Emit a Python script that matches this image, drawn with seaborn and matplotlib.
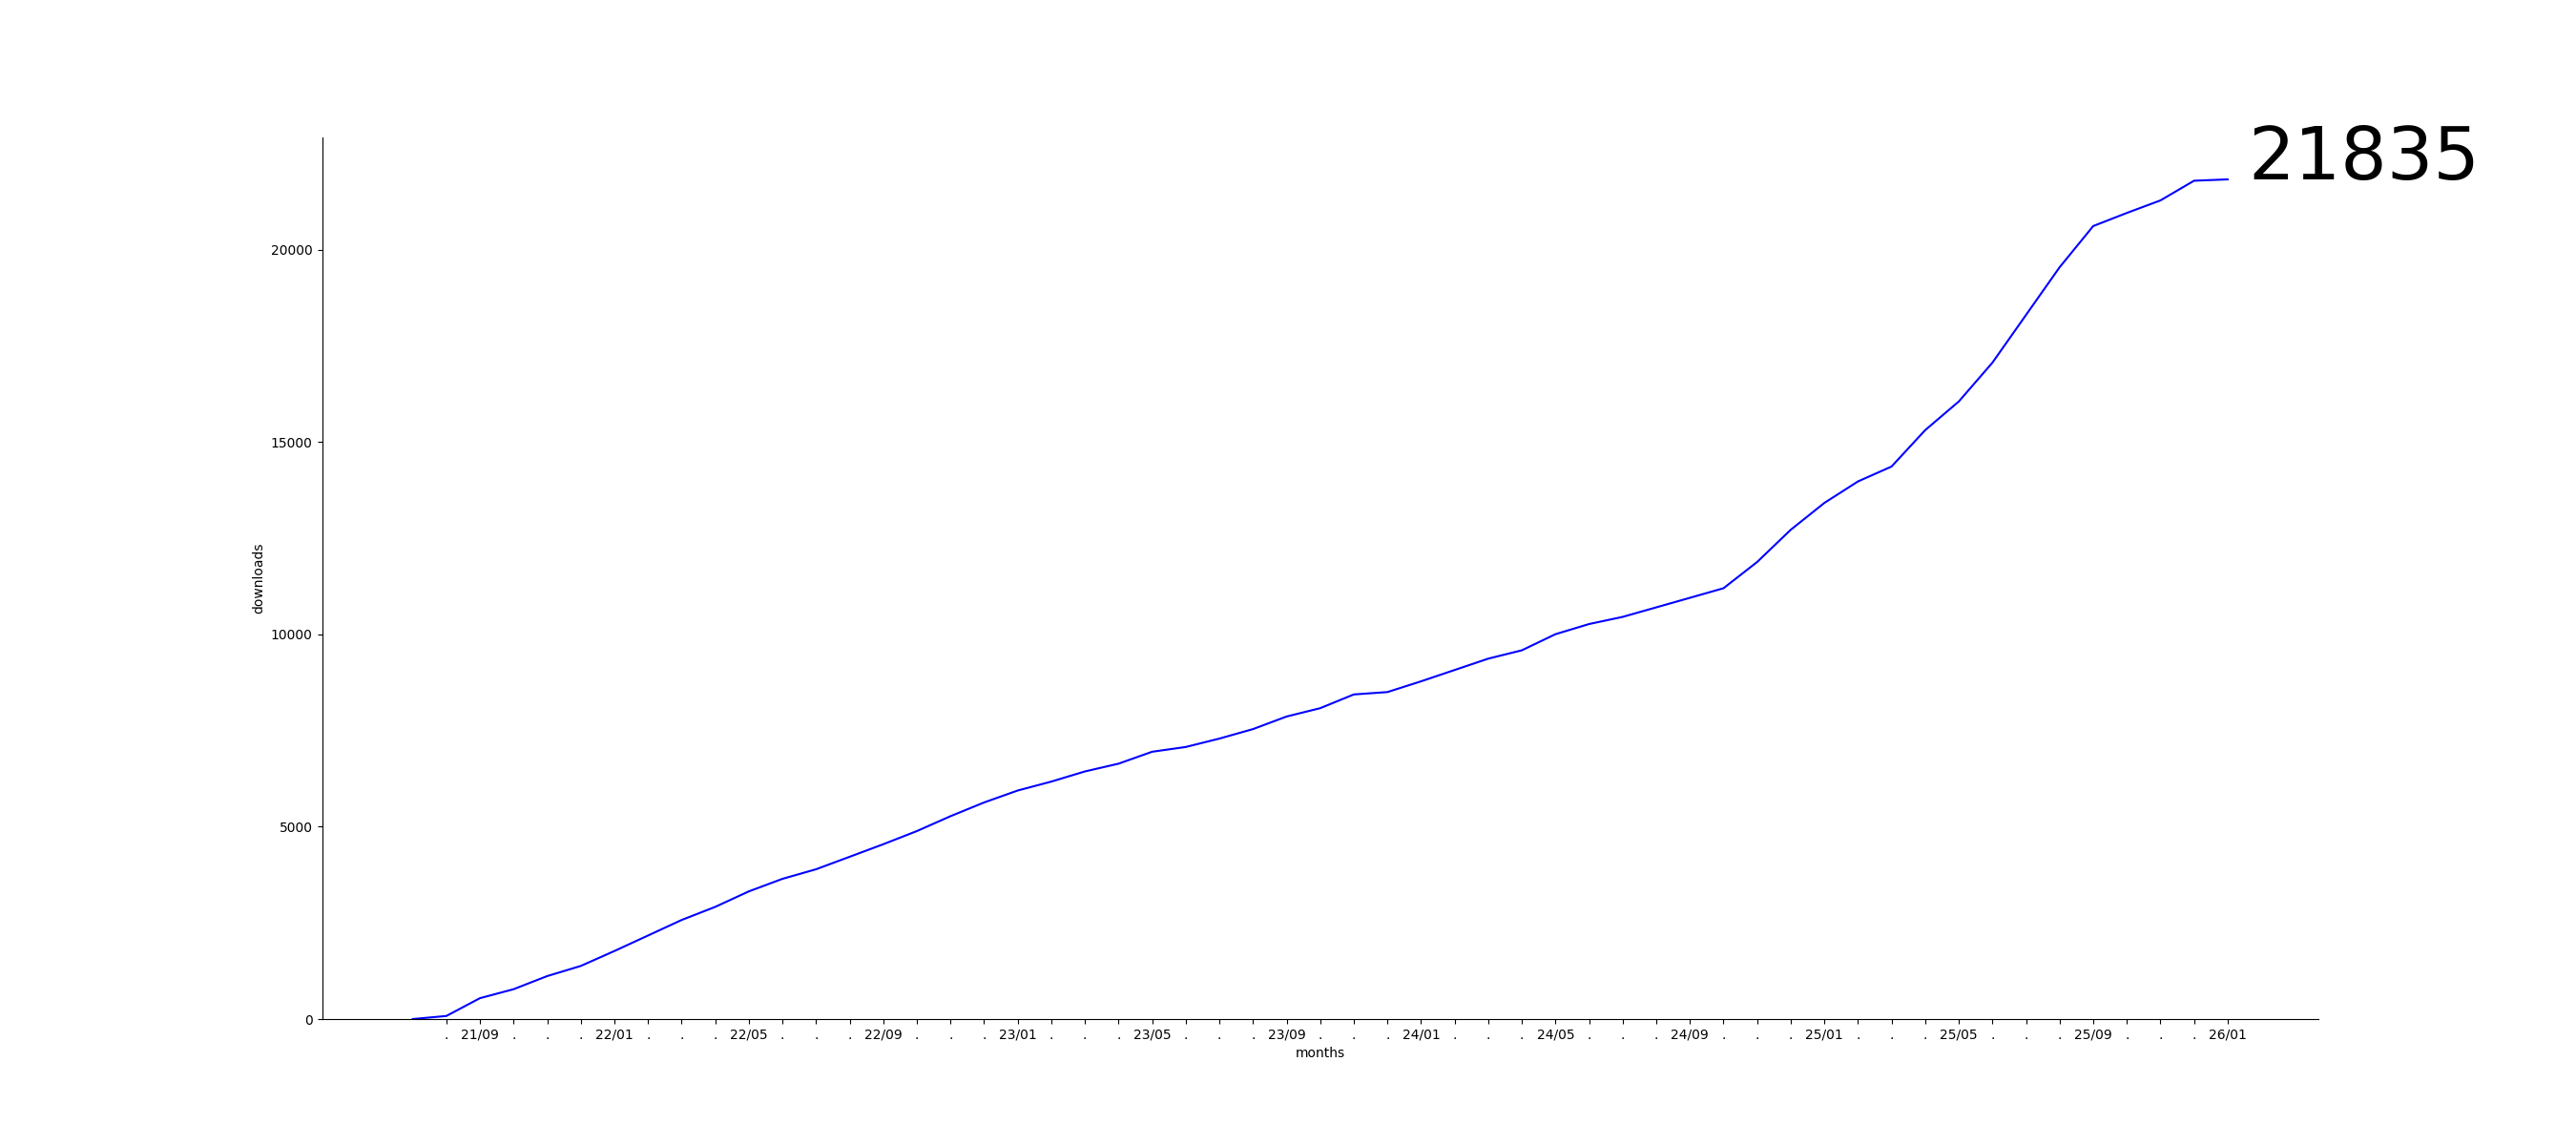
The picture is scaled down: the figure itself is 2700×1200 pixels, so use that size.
import matplotlib
matplotlib.use("Agg")
import matplotlib.pyplot as plt
import seaborn as sns
import pandas as pd

months = [p.strftime("%y/%m") for p in pd.period_range("2021-07", "2026-01", freq="M")]
downloads = [
    0, 80, 543, 776, 1117, 1381,                      # 21/07 - 21/12
    1769, 2172, 2576, 2917, 3320, 3646, 3895, 4220, 4546, 4888, 5275, 5632,   # 22
    5943, 6175, 6439, 6641, 6951, 7075, 7293, 7540, 7867, 8084, 8441, 8503,   # 23
    8782, 9077, 9372, 9589, 10008, 10272, 10458, 10706, 10954, 11203, 11885, 12723,  # 24
    13421, 13980, 14368, 15314, 16059, 17068, 18309, 19550, 20621, 20962, 21288, 21800,  # 25
    21835,                                              # 26/01
]
label_months = ["01", "05", "09"]
final_label = "21835"

df = pd.DataFrame({"idx": range(len(months)), "month": months, "downloads": downloads})

fig, ax = plt.subplots(figsize=(27, 12), dpi=100)
sns.lineplot(data=df, x="idx", y="downloads", color="blue", linewidth=1.5, ax=ax)
ax.set_ylim(bottom=0)

tick_pos = list(range(1, len(months)))
tick_lab = [m if m.split("/")[1] in label_months else "." for m in months[1:]]
ax.set_xticks(tick_pos)
ax.set_xticklabels(tick_lab)
ax.set_xlabel("months")
ax.set_ylabel("downloads")
sns.despine(ax=ax)

ax.text(len(months) - 0.4, downloads[-1], final_label, fontsize=55, va="baseline", ha="left")

fig.savefig("out.png", dpi=100)
